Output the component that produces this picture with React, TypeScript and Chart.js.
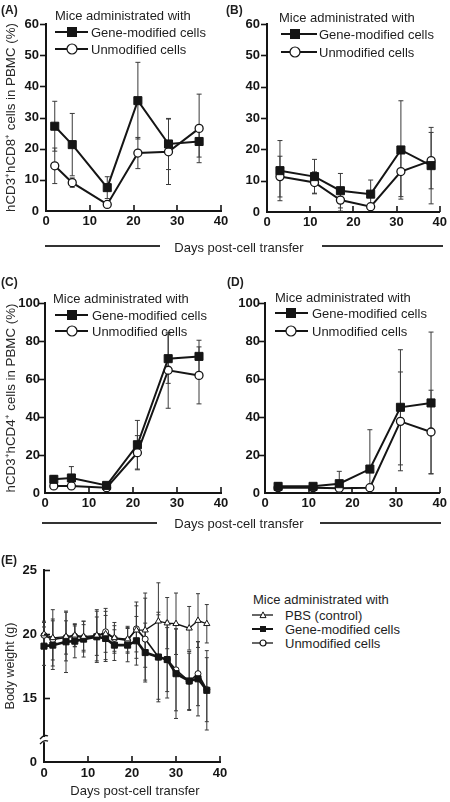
import React, { useEffect, useRef } from 'react';
import { Chart, registerables } from 'chart.js';
Chart.register(...registerables);

const FONT = "'Liberation Sans', Arial, Helvetica, sans-serif";
Chart.defaults.font.family = FONT;

// ---------- Panel A: hCD3+hCD8+ (exp 1)
const daysA = [2, 6, 14, 21, 28, 35];
const geneA = [27.2, 21.3, 7.5, 35.4, 21.5, 22.3];
const geneErrA = [8, 10, 3.5, 12.3, 8.2, 5];
const unmodA = [14.5, 9.1, 2.1, 18.6, 19, 26.5];
const unmodErrA = [5.7, 1.5, 1, 5, 10.5, 11];

// ---------- Panel B: hCD3+hCD8+ (exp 2)
const daysB = [3, 11, 17, 24, 31, 38];
const geneB = [13.2, 11.3, 6.8, 5.7, 19.8, 14.8];
const geneErrB = [9.6, 5.5, 5.5, 4.5, 15.7, 12.2];
const unmodB = [11.3, 9.4, 3.8, 1.7, 12.9, 16.4];
const unmodErrB = [6.5, 3.4, 3.5, 1, 8, 9];

// ---------- Panel C: hCD3+hCD4+ (exp 1)
const daysC = [2, 6, 14, 21, 28, 35];
const geneC = [7.2, 7.9, 4, 25.4, 70.7, 71.9];
const geneErrC = [2, 6, 1.5, 12.8, 13, 8.5];
const unmodC = [3.7, 3.7, 2.8, 21.2, 64.6, 61.9];
const unmodErrC = [1, 1, 0.8, 9, 20, 15];

// ---------- Panel D: hCD3+hCD4+ (exp 2)
const daysD = [3, 11, 17, 24, 31, 38];
const geneD = [3.5, 3.5, 4.9, 12.6, 45.1, 47.4];
const geneErrD = [2, 1.5, 6.5, 20.7, 30.3, 37.3];
const unmodD = [2.8, 2.8, 2.5, 2.8, 37.7, 32.1];
const unmodErrD = [1, 1, 1, 1, 26, 22];

// ---------- Panel E: body weight
const daysE = [0, 2, 5, 7, 9, 12, 14, 16, 19, 21, 23, 26, 28, 30, 33, 35, 37];
const pbsE = [20.0, 19.7, 19.8, 19.9, 19.8, 19.9, 20.0, 19.7, 19.6, 20.3, 20.3, 21.0, 20.85, 20.8, 20.45, 21.05, 20.8];
const pbsErrE = [1.0, 2.2, 1.9, 0.9, 1.2, 2.0, 2.0, 1.2, 1.0, 2.2, 2.9, 3.0, 2.0, 2.4, 1.7, 2.1, 1.5];
const geneE = [19.05, 19.13, 19.39, 19.44, 19.6, 19.78, 19.65, 19.13, 19.13, 19.47, 18.55, 18.2, 18.0, 16.9, 16.33, 16.5, 15.6];
const geneErrE = [1.5, 1.9, 2.4, 1.3, 1.4, 2.0, 1.8, 1.2, 1.3, 1.9, 2.3, 3.3, 2.5, 3.5, 2.3, 2.9, 3.1];
const unmodE = [19.9, 19.57, 19.73, 19.83, 19.73, 19.83, 20.17, 19.65, 19.5, 20.4, 19.6, 18.2, 18.0, 17.2, 16.3, 16.9, 15.65];
const unmodErrE = [1.0, 1.6, 1.3, 0.8, 1.0, 1.5, 1.6, 1.0, 1.0, 1.8, 3.2, 3.5, 3.0, 3.2, 2.2, 2.5, 2.5];

// ---------- ticks
const xTicks = [0, 10, 20, 30, 40];
const xTickLabels = ['0', '10', '20', '30', '40'];
const yTicksAB = [0, 10, 20, 30, 40, 50, 60];
const yTickLabelsAB = ['0', '10', '20', '30', '40', '50', '60'];
const yTicksCD = [0, 20, 40, 60, 80, 100];
const yTickLabelsCD = ['0', '20', '40', '60', '80', '100'];
const yTicksE = [10, 15, 20, 25];
const yTickLabelsE = ['0', '15', '20', '25'];

const LEGEND_TITLE = 'Mice administrated with';
const GENE_LABEL = 'Gene-modified cells';
const UNMOD_LABEL = 'Unmodified cells';
const PBS_LABEL = 'PBS (control)';
const X_TITLE = 'Days post-cell transfer';

const INK = '#151515';

const errorBarPlugin = {
  id: 'errorBars',
  beforeDatasetsDraw(chart: any, _a: any, opts: any) {
    const { ctx, scales, chartArea } = chart;
    const y = scales.y;
    ctx.save();
    ctx.beginPath();
    ctx.rect(chartArea.left - 10, chartArea.top - 30, chartArea.right - chartArea.left + 20, chartArea.bottom - chartArea.top + 30);
    ctx.clip();
    ctx.strokeStyle = '#3a3a3a';
    ctx.lineWidth = 1;
    const cap = opts.cap || 2.5;
    chart.data.datasets.forEach((ds: any, i: number) => {
      if (!ds.errors) return;
      const meta = chart.getDatasetMeta(i);
      meta.data.forEach((pt: any, j: number) => {
        const v = ds.data[j].y;
        const e = ds.errors[j];
        const top = y.getPixelForValue(v + e);
        const bot = y.getPixelForValue(v - e);
        const px = pt.x;
        ctx.beginPath();
        ctx.moveTo(px, top);
        ctx.lineTo(px, bot);
        ctx.moveTo(px - cap, top);
        ctx.lineTo(px + cap, top);
        ctx.moveTo(px - cap, bot);
        ctx.lineTo(px + cap, bot);
        ctx.stroke();
      });
    });
    ctx.restore();
  },
};

const tickMarkPlugin = {
  id: 'tickMarks',
  afterDraw(chart: any, _a: any, opts: any) {
    const { ctx, scales, chartArea } = chart;
    const L = opts.len || 6;
    ctx.save();
    ctx.strokeStyle = INK;
    ctx.lineWidth = 1.6;
    for (const t of scales.x.ticks) {
      if (t.value === scales.x.min) continue;
      const px = Math.round(scales.x.getPixelForValue(t.value));
      ctx.beginPath();
      ctx.moveTo(px, chartArea.bottom);
      ctx.lineTo(px, chartArea.bottom - L);
      ctx.stroke();
    }
    const dir = opts.yDir === 'in' ? 1 : -1;
    for (const t of scales.y.ticks) {
      if (t.value === scales.y.min) continue;
      const py = Math.round(scales.y.getPixelForValue(t.value)) + 0.5;
      ctx.beginPath();
      ctx.moveTo(chartArea.left, py);
      ctx.lineTo(chartArea.left + dir * L, py);
      ctx.stroke();
    }
    if (opts.breakAt) {
      const [a, b] = opts.breakAt;
      const ya = scales.y.getPixelForValue(a);
      const yb = scales.y.getPixelForValue(b);
      const lx = chartArea.left;
      ctx.fillStyle = '#fff';
      ctx.fillRect(lx - 3, ya, 6, yb - ya);
      ctx.lineWidth = 1.3;
      ctx.beginPath();
      ctx.moveTo(lx - 4, ya + 2);
      ctx.quadraticCurveTo(lx, ya - 3, lx + 4, ya - 1);
      ctx.moveTo(lx - 4, yb + 2);
      ctx.quadraticCurveTo(lx, yb - 3, lx + 4, yb - 1);
      ctx.stroke();
    }
    ctx.restore();
  },
};

type PanelProps = {
  left: number; top: number; width: number; height: number;
  pad: { left: number; top: number; right: number; bottom: number };
  yWidth: number; xHeight: number;
  yMin: number; yMax: number; yTicks: number[]; yTickLabels: string[];
  yTitle: string; yTitleSize: number;
  yPad: number; xPad: number;
  yDir: 'in' | 'out';
  cap: number;
  breakAt?: number[];
  datasets: any[];
};

function Panel(p: PanelProps) {
  const ref = useRef<HTMLCanvasElement>(null);
  useEffect(() => {
    const tickFont = { family: FONT, size: 13, weight: 'bold' as const };
    const chart = new Chart(ref.current as HTMLCanvasElement, {
      type: 'line',
      data: { datasets: p.datasets },
      options: {
        animation: false,
        responsive: false,
        events: [],
        layout: { padding: p.pad },
        plugins: {
          legend: { display: false },
          tooltip: { enabled: false },
          errorBars: { cap: p.cap },
          tickMarks: { yDir: p.yDir, len: 6, breakAt: p.breakAt },
        } as any,
        scales: {
          x: {
            type: 'linear',
            min: 0,
            max: 40,
            afterBuildTicks: (s: any) => { s.ticks = xTicks.map((v) => ({ value: v })); },
            afterFit: (s: any) => { s.height = p.xHeight; },
            ticks: {
              callback: (_v: any, i: number) => xTickLabels[i],
              font: tickFont,
              color: INK,
              padding: p.xPad,
              maxRotation: 0,
              autoSkip: false,
            },
            grid: { display: false, drawTicks: false },
            border: { display: true, color: INK, width: 2 },
          },
          y: {
            type: 'linear',
            min: p.yMin,
            max: p.yMax,
            afterBuildTicks: (s: any) => { s.ticks = p.yTicks.map((v) => ({ value: v })); },
            afterFit: (s: any) => { s.width = p.yWidth; },
            ticks: {
              callback: (_v: any, i: number) => p.yTickLabels[i],
              font: tickFont,
              color: INK,
              padding: p.yPad,
              autoSkip: false,
            },
            grid: { display: false, drawTicks: false },
            border: { display: true, color: INK, width: 2 },
            title: {
              display: true,
              text: p.yTitle,
              color: '#2a2a2a',
              font: { family: FONT, size: p.yTitleSize },
              padding: { top: 3, bottom: 0 },
            },
          },
        },
      } as any,
      plugins: [errorBarPlugin, tickMarkPlugin],
    });
    return () => chart.destroy();
  }, []);
  return (
    <canvas
      ref={ref}
      width={p.width}
      height={p.height}
      style={{ position: 'absolute', left: p.left, top: p.top, width: p.width, height: p.height }}
    />
  );
}

function toPts(days: number[], vals: number[]) {
  return days.map((d, i) => ({ x: d, y: vals[i] }));
}

function geneSet(days: number[], vals: number[], errs: number[], small = false) {
  return {
    label: GENE_LABEL,
    data: toPts(days, vals),
    errors: errs,
    borderColor: INK,
    borderWidth: small ? 2.6 : 2,
    pointStyle: 'rect',
    pointRadius: small ? 4.3 : 5.7,
    pointBackgroundColor: INK,
    pointBorderColor: INK,
    pointBorderWidth: 1,
    tension: 0,
    clip: false,
  };
}

function unmodSet(days: number[], vals: number[], errs: number[], small = false) {
  return {
    label: UNMOD_LABEL,
    data: toPts(days, vals),
    errors: errs,
    borderColor: INK,
    borderWidth: small ? 1.6 : 2,
    pointStyle: 'circle',
    pointRadius: small ? 3 : 4,
    pointBackgroundColor: '#fff',
    pointBorderColor: INK,
    pointBorderWidth: small ? 1 : 1.3,
    tension: 0,
    clip: false,
  };
}

function pbsSet(days: number[], vals: number[], errs: number[]) {
  return {
    label: PBS_LABEL,
    data: toPts(days, vals),
    errors: errs,
    borderColor: INK,
    borderWidth: 1.3,
    pointStyle: 'triangle',
    pointRadius: 3.6,
    pointBackgroundColor: '#fff',
    pointBorderColor: INK,
    pointBorderWidth: 1,
    tension: 0,
    clip: false,
  };
}

function Txt(props: { x: number; y: number; text: string; size?: number; bold?: boolean; center?: boolean }) {
  const size = props.size || 13;
  return (
    <div
      style={{
        position: 'absolute',
        left: props.x,
        top: props.y,
        transform: props.center ? 'translate(-50%, -50%)' : 'translateY(-50%)',
        font: `${props.bold ? 'bold ' : ''}${size}px ${FONT}`,
        color: '#1e1e1e',
        whiteSpace: 'nowrap',
        lineHeight: 1,
      }}
    >
      {props.text}
    </div>
  );
}

function HLine(props: { x1: number; x2: number; y: number }) {
  return (
    <div
      style={{
        position: 'absolute',
        left: props.x1,
        top: props.y - 0.75,
        width: props.x2 - props.x1,
        height: 1.5,
        background: '#333',
      }}
    />
  );
}

function Marker(props: { kind: string; cx: number; cy: number; s: number }) {
  const { kind, cx, cy, s } = props;
  if (kind === 'square') return <rect x={cx - s / 2} y={cy - s / 2} width={s} height={s} fill={INK} />;
  if (kind === 'circle') return <circle cx={cx} cy={cy} r={s / 2} fill="#fff" stroke={INK} strokeWidth={1.2} />;
  const h = s * 0.87;
  return (
    <polygon
      points={`${cx},${cy - h / 2 - 0.5} ${cx - s / 2},${cy + h / 2} ${cx + s / 2},${cy + h / 2}`}
      fill="#fff"
      stroke={INK}
      strokeWidth={1}
    />
  );
}

function LegendItem(props: { x1: number; x2: number; mx: number; y: number; tx: number; kind: string; s: number; lw: number; text: string; size?: number }) {
  const w = props.x2 - props.x1;
  return (
    <>
      <svg style={{ position: 'absolute', left: props.x1, top: props.y - 8 }} width={w} height={16}>
        <line x1={0} y1={8} x2={w} y2={8} stroke={INK} strokeWidth={props.lw} />
        <Marker kind={props.kind} cx={props.mx - props.x1} cy={8} s={props.s} />
      </svg>
      <Txt x={props.tx} y={props.y} text={props.text} size={props.size} />
    </>
  );
}

function Legend2(props: { tx: number; ty: number; y1: number; y2: number; x1: number; x2: number; mx: number; itx: number }) {
  return (
    <>
      <Txt x={props.tx} y={props.ty} text={LEGEND_TITLE} />
      <LegendItem x1={props.x1} x2={props.x2} mx={props.mx} y={props.y1} tx={props.itx} kind="square" s={10} lw={2} text={GENE_LABEL} />
      <LegendItem x1={props.x1} x2={props.x2} mx={props.mx} y={props.y2} tx={props.itx} kind="circle" s={10} lw={2} text={UNMOD_LABEL} />
    </>
  );
}

export default function App() {
  return (
    <div style={{ position: 'absolute', left: 0, top: 0, width: 450, height: 802, background: '#fff', overflow: 'hidden' }}>
      <Panel
        left={0} top={0} width={232} height={240}
        pad={{ left: 0, top: 24, right: 11, bottom: 9 }}
        yWidth={46} xHeight={20}
        yMin={0} yMax={60} yTicks={yTicksAB} yTickLabels={yTickLabelsAB}
        yTitle={'hCD3\u207AhCD8\u207A cells in PBMC (%)'} yTitleSize={13.3}
        yPad={7} xPad={3} yDir="out" cap={2.5}
        datasets={[geneSet(daysA, geneA, geneErrA), unmodSet(daysA, unmodA, unmodErrA)]}
      />
      <Panel
        left={220} top={0} width={230} height={240}
        pad={{ left: 0, top: 24, right: 9, bottom: 8 }}
        yWidth={47} xHeight={20}
        yMin={0} yMax={60} yTicks={yTicksAB} yTickLabels={yTickLabelsAB}
        yTitle={''} yTitleSize={1}
        yPad={7} xPad={3} yDir="out" cap={2.5}
        datasets={[geneSet(daysB, geneB, geneErrB), unmodSet(daysB, unmodB, unmodErrB)]}
      />
      <Panel
        left={0} top={260} width={232} height={258}
        pad={{ left: 0, top: 43, right: 11, bottom: 5 }}
        yWidth={45} xHeight={20}
        yMin={0} yMax={100} yTicks={yTicksCD} yTickLabels={yTickLabelsCD}
        yTitle={'hCD3\u207AhCD4\u207A cells in PBMC (%)'} yTitleSize={13.3}
        yPad={5} xPad={3} yDir="out" cap={2.5}
        datasets={[geneSet(daysC, geneC, geneErrC), unmodSet(daysC, unmodC, unmodErrC)]}
      />
      <Panel
        left={220} top={260} width={230} height={258}
        pad={{ left: 0, top: 43, right: 10, bottom: 5 }}
        yWidth={45} xHeight={20}
        yMin={0} yMax={100} yTicks={yTicksCD} yTickLabels={yTickLabelsCD}
        yTitle={''} yTitleSize={1}
        yPad={5} xPad={3} yDir="out" cap={2.5}
        datasets={[geneSet(daysD, geneD, geneErrD), unmodSet(daysD, unmodD, unmodErrD)]}
      />
      <Panel
        left={0} top={555} width={232} height={230}
        pad={{ left: 0, top: 15, right: 12, bottom: 3 }}
        yWidth={44} xHeight={20}
        yMin={10} yMax={25} yTicks={yTicksE} yTickLabels={yTickLabelsE}
        yTitle={'Body weight (g)'} yTitleSize={12.5}
        yPad={7} xPad={4} yDir="in" cap={2}
        breakAt={[11.95, 11.55]}
        datasets={[pbsSet(daysE, pbsE, pbsErrE), geneSet(daysE, geneE, geneErrE, true), unmodSet(daysE, unmodE, unmodErrE, true)]}
      />

      <Txt x={1} y={10} text="(A)" size={12} bold />
      <Txt x={226} y={10} text="(B)" size={12} bold />
      <Txt x={1} y={282} text="(C)" size={12} bold />
      <Txt x={227} y={282} text="(D)" size={12} bold />
      <Txt x={1} y={560} text="(E)" size={12} bold />

      <Legend2 tx={55} ty={15} y1={32} y2={49} x1={55} x2={88} mx={72} itx={91} />
      <Legend2 tx={279} ty={17} y1={34} y2={52} x1={281} x2={317} mx={295} itx={319} />
      <Legend2 tx={53} ty={298} y1={315} y2={331} x1={55} x2={88} mx={72} itx={92} />
      <Legend2 tx={275} ty={297} y1={313} y2={331} x1={275} x2={308} mx={291} itx={312} />

      <HLine x1={45} x2={160} y={246} />
      <Txt x={239} y={247} text={X_TITLE} center />
      <HLine x1={322} x2={443} y={246} />

      <HLine x1={42} x2={157} y={523} />
      <Txt x={239} y={523} text={X_TITLE} center />
      <HLine x1={320} x2={441} y={523} />

      <Txt x={135} y={790} text={X_TITLE} center />

      <Txt x={253} y={599} text={LEGEND_TITLE} />
      <LegendItem x1={252} x2={273} mx={263} y={615} tx={285} kind="triangle" s={6} lw={1.3} text={PBS_LABEL} />
      <LegendItem x1={252} x2={273} mx={263} y={629} tx={285} kind="square" s={6} lw={2} text={GENE_LABEL} />
      <LegendItem x1={252} x2={273} mx={263} y={643} tx={285} kind="circle" s={6} lw={1.3} text={UNMOD_LABEL} />
    </div>
  );
}
